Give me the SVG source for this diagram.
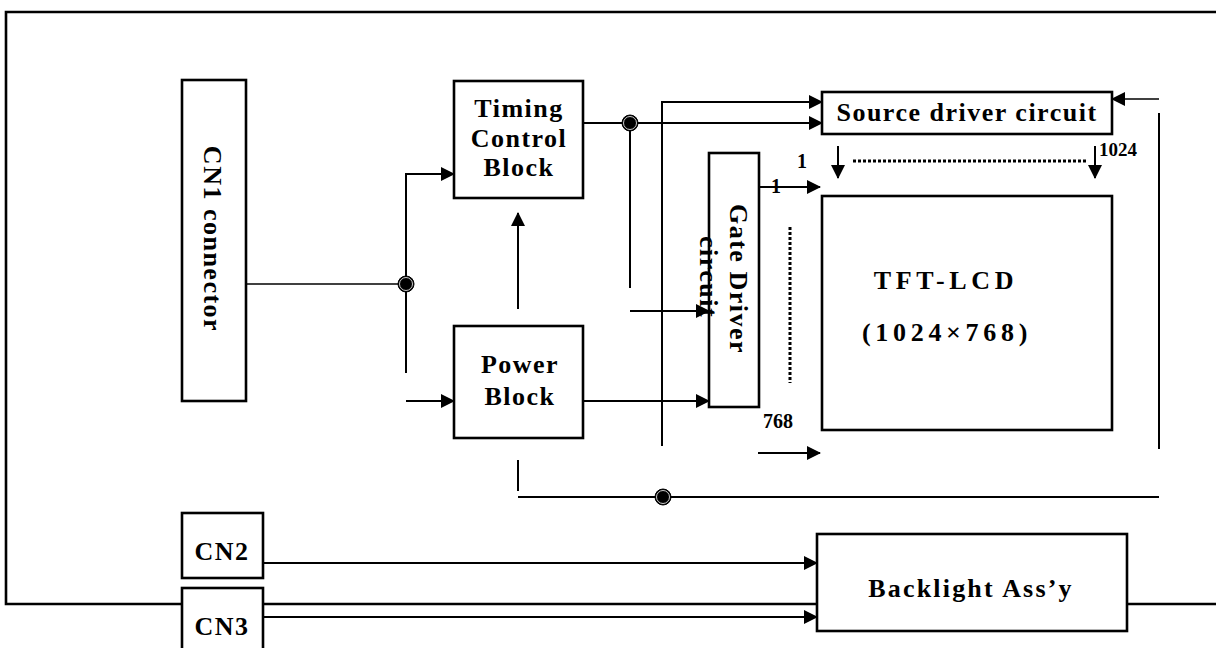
<svg xmlns="http://www.w3.org/2000/svg" width="1216" height="648" viewBox="0 0 1216 648">
<defs>
<marker id="ah" viewBox="0 0 14 14" refX="13" refY="7" markerWidth="14" markerHeight="14" markerUnits="userSpaceOnUse" orient="auto">
<path d="M0,0 L14,7 L0,14 Z" fill="#000"/>
</marker>
</defs>
<style>
.box{fill:#fff;stroke:#000;stroke-width:2.6}
.ln{fill:none;stroke:#000;stroke-width:2}
.thin{fill:none;stroke:#000;stroke-width:1.5}
.ar{marker-end:url(#ah)}
.dot{fill:none;stroke:#000;stroke-width:3;stroke-dasharray:3 2}
.t{font-family:"Liberation Serif","Times New Roman",serif;font-weight:bold;font-size:26px;letter-spacing:1.5px;fill:#000}
.tb{font-family:"Liberation Serif","Times New Roman",serif;font-weight:bold;font-size:26px;letter-spacing:4.7px;fill:#000}
.s{font-family:"Liberation Serif","Times New Roman",serif;font-weight:bold;font-size:20px;fill:#000}
.jo{fill:#000;stroke:#000;stroke-width:1}
.ji{fill:none;stroke:#fff;stroke-width:0.8}
</style>
<rect width="1216" height="648" fill="#fff"/>
<g id="frame">
<path class="box" style="fill:none" d="M1216,12 L6,12 L6,604 L182,604"/>
<path class="box" style="fill:none" d="M1127,604 L1216,604"/>
</g>
<g id="connectors">
<path class="thin" d="M246,284 L406,284"/>
<path class="ln ar" d="M406,373 L406,174 L454,174"/>
<path class="ln ar" d="M406,401 L454,401"/>
<path class="ln ar" d="M518,309 L518,213"/>
<path class="ln ar" d="M583,123 L822,123"/>
<path class="ln" d="M630,123 L630,288"/>
<path class="ln ar" d="M630,311 L709,311"/>
<path class="ln ar" d="M662,446 L662,102 L822,102"/>
<path class="ln ar" d="M583,401 L709,401"/>
<path class="ln ar" d="M759,187 L820,187"/>
<path class="ln ar" d="M758,453 L820,453"/>
<path class="ln ar" d="M838,146 L838,178"/>
<path class="ln ar" d="M1095,146 L1095,178"/>
<path class="thin ar" d="M1159,99 L1112,99"/>
<path class="ln" d="M1159,113 L1159,449"/>
<path class="ln" d="M518,460 L518,491"/>
<path class="ln" d="M518,497 L1159,497"/>
<path class="dot" d="M853,161 L1088,161"/>
<path class="dot" d="M790,227 L790,383"/>
<path class="ln ar" d="M263,563 L817,563"/>
<path class="box" style="fill:none" d="M263,604 L817,604"/>
<path class="ln ar" d="M263,617 L817,617"/>
<circle class="jo" cx="406" cy="284" r="8"/><circle class="ji" cx="406" cy="284" r="6.5"/>
<circle class="jo" cx="630" cy="123" r="8"/><circle class="ji" cx="630" cy="123" r="6.5"/>
<circle class="jo" cx="663" cy="497" r="8"/><circle class="ji" cx="663" cy="497" r="6.5"/>
</g>
<g id="cn1">
<rect class="box" x="182" y="80" width="64" height="321"/>
<text class="t" transform="translate(204,239) rotate(90)" text-anchor="middle">CN1 connector</text>
</g>
<g id="timing">
<rect class="box" x="454" y="81" width="129" height="117"/>
<text class="t" x="519" y="117" text-anchor="middle">Timing</text>
<text class="t" x="519" y="147" text-anchor="middle">Control</text>
<text class="t" x="519" y="176" text-anchor="middle">Block</text>
</g>
<g id="power">
<rect class="box" x="454" y="326" width="129" height="112"/>
<text class="t" x="520" y="373" text-anchor="middle">Power</text>
<text class="t" x="520" y="405" text-anchor="middle">Block</text>
</g>
<g id="source">
<rect class="box" x="822" y="92" width="290" height="42"/>
<text class="t" x="967" y="121" text-anchor="middle">Source driver circuit</text>
</g>
<g id="gate">
<rect class="box" x="709" y="153" width="50" height="254"/>
<text class="t" transform="translate(730,279) rotate(90)" text-anchor="middle">Gate Driver</text>
<text class="t" transform="translate(700,277) rotate(90)" text-anchor="middle">circuit</text>
</g>
<g id="tft">
<rect class="box" x="822" y="196" width="290" height="234"/>
<text class="tb" x="946" y="289" text-anchor="middle">TFT-LCD</text>
<text class="tb" x="947" y="341" text-anchor="middle">(1024×768)</text>
</g>
<g id="labels">
<text class="s" x="797" y="168">1</text>
<text class="s" x="771" y="193">1</text>
<text class="s" x="1099" y="156" style="font-size:19px">1024</text>
<text class="s" x="763" y="428">768</text>
</g>
<g id="cn2">
<rect class="box" x="182" y="513" width="81" height="65"/>
<text class="t" x="222" y="560" text-anchor="middle">CN2</text>
</g>
<g id="cn3">
<rect class="box" x="182" y="588" width="81" height="70"/>
<text class="t" x="222" y="635" text-anchor="middle">CN3</text>
</g>
<g id="backlight">
<rect class="box" x="817" y="534" width="310" height="97"/>
<text class="t" x="971" y="597" text-anchor="middle" style="letter-spacing:2.2px">Backlight Ass’y</text>
</g>
</svg>
